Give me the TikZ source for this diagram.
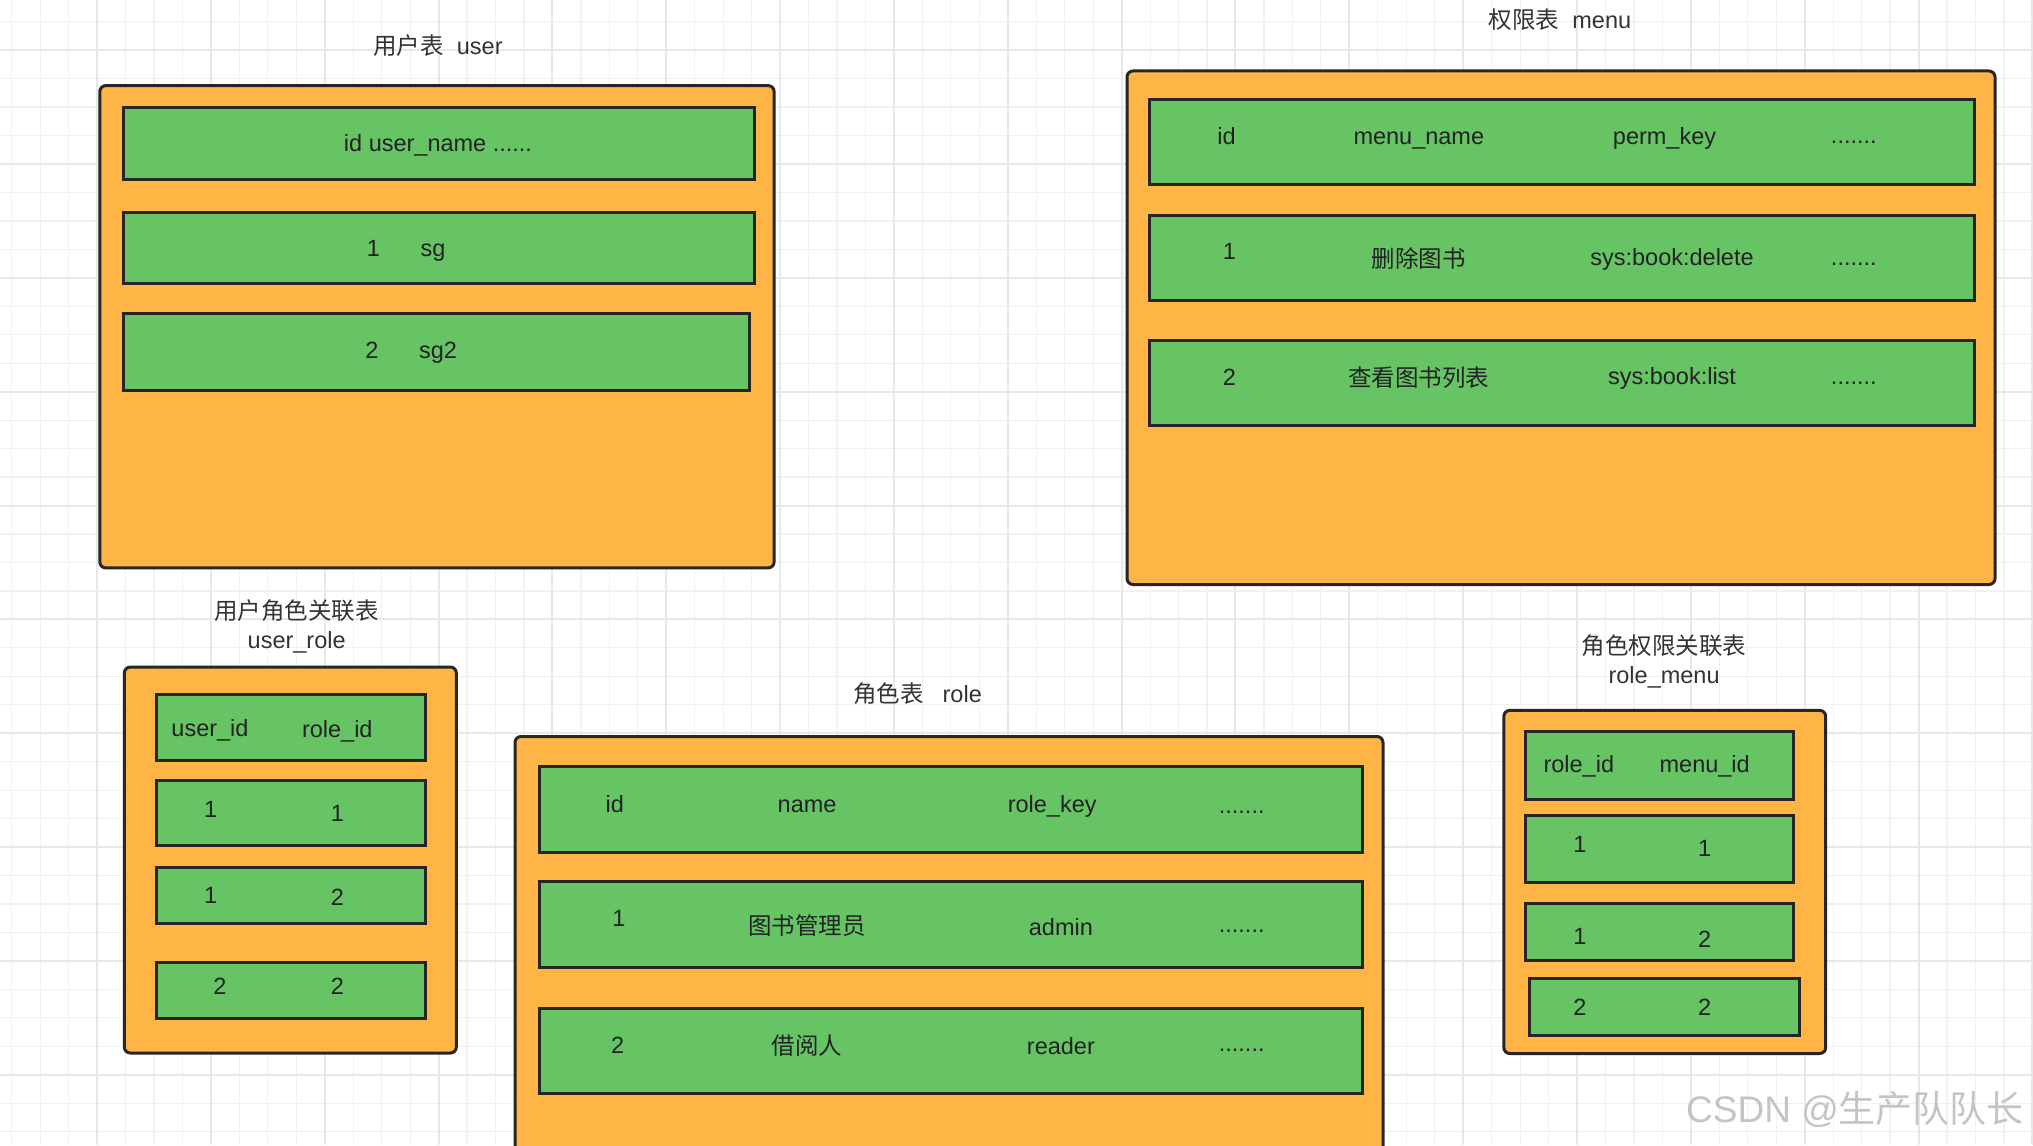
\documentclass[tikz,border=0pt]{standalone}
\usepackage{fontspec}
\setmainfont{Liberation Sans}
\newfontfamily\cjk{Noto Sans CJK SC}
\definecolor{orangefill}{HTML}{FFB546}
\definecolor{greenfill}{HTML}{66C465}
\definecolor{edgec}{HTML}{262626}
\definecolor{txtc}{HTML}{222222}
\definecolor{titc}{HTML}{333333}
\definecolor{gridmin}{HTML}{F1F1F1}
\definecolor{gridmaj}{HTML}{E8E8E8}
\definecolor{wmark}{HTML}{C4C4C4}
\newcommand\tbox[6]{\node[#1, minimum width={(#5-#3)*1pt}, minimum height={(#6-#4)*1pt}] (#2) at ({(#3+#5)/2},{(#4+#6)/2}) {};}
\begin{document}
\begin{tikzpicture}[x={(1pt,0)}, y={(0,-1pt)},
  outerbox/.style={draw=edgec, line width=3pt, fill=orangefill, rounded corners=6pt, inner sep=0pt, outer sep=0pt},
  rowbox/.style={draw=edgec, line width=3pt, fill=greenfill, inner sep=0pt, outer sep=0pt},
  txt/.style={font=\fontsize{23.5}{28}\selectfont, text=txtc, inner sep=0pt, anchor=base},
  ctxt/.style={txt, font=\cjk\fontsize{23.5}{28}\selectfont},
  ttl/.style={txt, text=titc},
  gminor/.style={draw=gridmin, line width=1.2pt},
  gmajor/.style={draw=gridmaj, line width=2pt}]
\useasboundingbox (0,0) rectangle (2033,1145);
\clip (0,0) rectangle (2033,1145);
\fill[white] (0,0) rectangle (2033,1145);
% grid
\foreach \i in {0,...,71}{\pgfmathsetmacro\gx{11.7+28.46*\i}\draw[gminor] (\gx,0) -- (\gx,1145);}
\foreach \j in {0,...,39}{\pgfmathsetmacro\gy{21.7+28.46*\j}\draw[gminor] (0,\gy) -- (2033,\gy);}
\foreach \i in {3,7,...,71}{\pgfmathsetmacro\gx{11.7+28.46*\i}\draw[gmajor] (\gx,0) -- (\gx,1145);}
\foreach \j in {1,5,...,37}{\pgfmathsetmacro\gy{21.7+28.46*\j}\draw[gmajor] (0,\gy) -- (2033,\gy);}

% ---------- user ----------
\node[ttl] (userT) at (438,55) {{\cjk 用户表}\hspace{13pt}user};
\tbox{outerbox}{user}{99.8}{85.6}{774.1}{567.9}
\tbox{rowbox}{userH}{123.3}{107.6}{754.6}{179.5}
\tbox{rowbox}{userR1}{123.3}{212.3}{754.6}{283.5}
\tbox{rowbox}{userR2}{123.3}{313.5}{749.4}{390.5}
\node[txt] (uh) at (438,151) {id user\_name ......};
\node[txt] (u11) at (373.5,256.5) {1};
\node[txt] (u12) at (433,256.5) {sg};
\node[txt] (u21) at (372,358.5) {2};
\node[txt] (u22) at (438,358.5) {sg2};

% ---------- menu ----------
\node[ttl] (menuT) at (1560,29) {{\cjk 权限表}\hspace{13pt}menu};
\tbox{outerbox}{menu}{1127}{71}{1995}{584.5}
\tbox{rowbox}{menuH}{1149}{100}{1974}{184.5}
\tbox{rowbox}{menuR1}{1149}{215.5}{1974}{300.4}
\tbox{rowbox}{menuR2}{1149}{340.6}{1974}{425.6}
\node[txt] (mh1) at (1226.6,144) {id};
\node[txt] (mh2) at (1418.8,144) {menu\_name};
\node[txt] (mh3) at (1664.5,144) {perm\_key};
\node[txt] (mh4) at (1853.8,143) {.......};
\node[txt] (m11) at (1229.5,259) {1};
\node[ctxt] (m12) at (1418.8,267) {删除图书};
\node[txt] (m13) at (1672,265.5) {sys:book:delete};
\node[txt] (m14) at (1853.8,265) {.......};
\node[txt] (m21) at (1229.5,385.5) {2};
\node[ctxt] (m22) at (1418.8,386.5) {查看图书列表};
\node[txt] (m23) at (1672,384.5) {sys:book:list};
\node[txt] (m24) at (1853.8,384) {.......};

% ---------- user_role ----------
\node[ttl] (urT1) at (296.7,619) {\cjk 用户角色关联表};
\node[ttl] (urT2) at (296.7,648) {user\_role};
\tbox{outerbox}{ur}{124.3}{667}{456.3}{1053}
\tbox{rowbox}{urH}{156}{694.3}{425}{760.7}
\tbox{rowbox}{urR1}{156}{780}{425}{845}
\tbox{rowbox}{urR2}{156}{867.3}{425}{923.3}
\tbox{rowbox}{urR3}{156}{962.7}{425}{1018.3}
\node[txt] (urh1) at (210,736) {user\_id};
\node[txt] (urh2) at (337.3,737) {role\_id};
\node[txt] (ur11) at (210.7,817) {1};
\node[txt] (ur12) at (337.3,821) {1};
\node[txt] (ur21) at (210.7,903.5) {1};
\node[txt] (ur22) at (337.3,905) {2};
\node[txt] (ur31) at (220,994.5) {2};
\node[txt] (ur32) at (337.3,994.5) {2};

% ---------- role ----------
\node[ttl] (roleT) at (917.5,702.5) {{\cjk 角色表}\hspace{19pt}role};
\tbox{outerbox}{role}{515}{736.5}{1383}{1175}
\tbox{rowbox}{roleH}{539}{766}{1362}{852.3}
\tbox{rowbox}{roleR1}{539}{881.7}{1362}{967.3}
\tbox{rowbox}{roleR2}{539}{1008.3}{1362}{1093.3}
\node[txt] (rh1) at (614.8,812) {id};
\node[txt] (rh2) at (807.1,812) {name};
\node[txt] (rh3) at (1052.2,812) {role\_key};
\node[txt] (rh4) at (1241.7,813) {.......};
\node[txt] (r11) at (618.8,926.7) {1};
\node[ctxt] (r12) at (807.1,934) {图书管理员};
\node[txt] (r13) at (1060.9,935) {admin};
\node[txt] (r14) at (1241.7,932) {.......};
\node[txt] (r21) at (617.7,1053.5) {2};
\node[ctxt] (r22) at (807.1,1054) {借阅人};
\node[txt] (r23) at (1060.9,1054) {reader};
\node[txt] (r24) at (1241.7,1051) {.......};

% ---------- role_menu ----------
\node[ttl] (rmT1) at (1664.1,654.5) {\cjk 角色权限关联表};
\node[ttl] (rmT2) at (1664.1,683.6) {role\_menu};
\tbox{outerbox}{rm}{1503.8}{710.4}{1825.7}{1053.5}
\tbox{rowbox}{rmH}{1525.1}{731.5}{1793.9}{799.1}
\tbox{rowbox}{rmR1}{1525.1}{815.9}{1793.9}{882.8}
\tbox{rowbox}{rmR2}{1525.1}{903.9}{1793.9}{960.5}
\tbox{rowbox}{rmR3}{1529.4}{978.2}{1799.2}{1035.1}
\node[txt] (rmh1) at (1578.8,772.3) {role\_id};
\node[txt] (rmh2) at (1704.7,772.3) {menu\_id};
\node[txt] (rm11) at (1579.8,852) {1};
\node[txt] (rm12) at (1704.7,856.7) {1};
\node[txt] (rm21) at (1579.8,944) {1};
\node[txt] (rm22) at (1704.7,947.5) {2};
\node[txt] (rm31) at (1579.8,1015) {2};
\node[txt] (rm32) at (1704.7,1015) {2};

% ---------- watermark ----------
\node[anchor=base west, inner sep=0pt, font=\fontsize{37}{42}\selectfont, text=wmark] (wm) at (1686,1122) {CSDN @{\cjk 生产队队长}};
\end{tikzpicture}
\end{document}
